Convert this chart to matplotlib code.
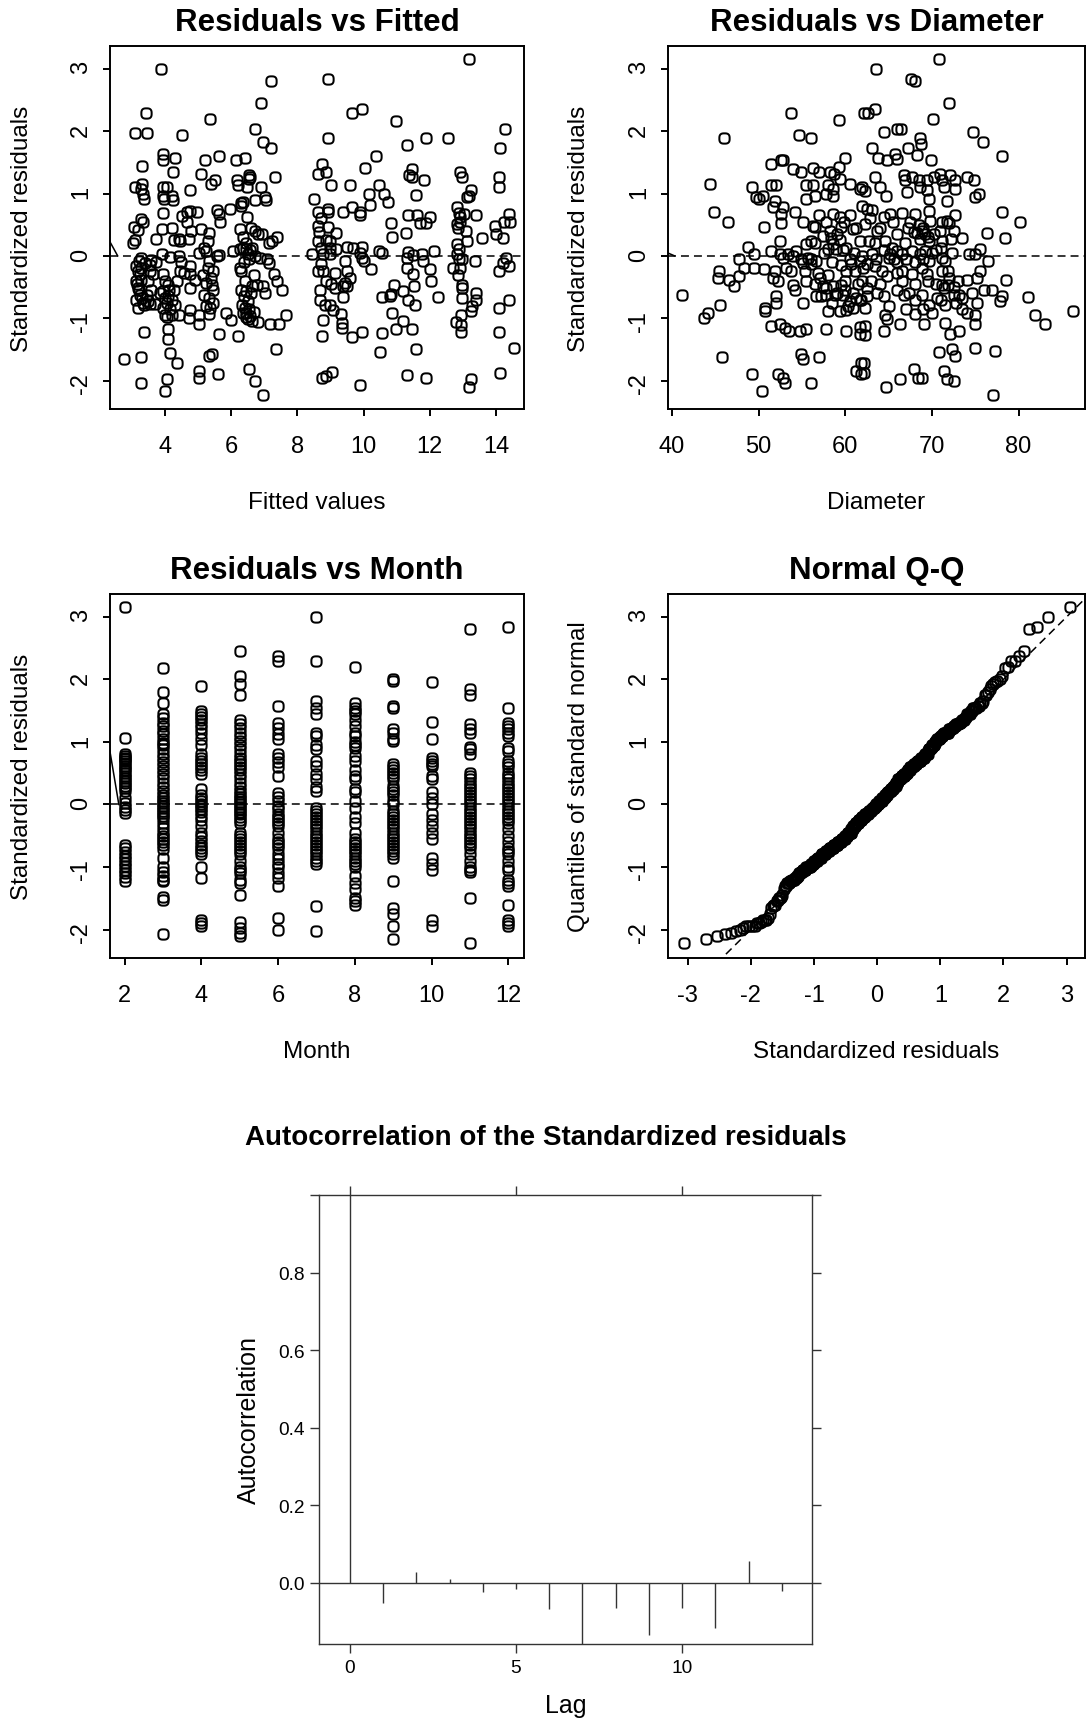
import numpy as np
import matplotlib
matplotlib.use('Agg')
import matplotlib.pyplot as plt
from matplotlib.path import Path
from statistics import NormalDist

plt.rcParams['font.family'] = ['Liberation Sans', 'DejaVu Sans']
plt.rcParams['axes.unicode_minus'] = False

# ---- Residuals vs Fitted: (fitted value, standardized residual) ----
fit_pts = [
    (3.88, 2.99), (7.21, 2.80), (6.90, 2.45), (3.44, 2.29), (5.36, 2.20), (3.08, 1.97), (3.46, 1.97),
    (4.51, 1.94), (6.72, 2.04), (6.97, 1.82), (7.21, 1.73), (3.93, 1.63), (3.95, 1.54), (4.29, 1.57),
    (5.21, 1.54), (5.62, 1.60), (6.15, 1.54), (6.43, 1.57), (3.31, 1.44), (4.23, 1.35), (5.08, 1.31),
    (6.53, 1.30), (6.56, 1.26), (3.08, 1.11), (3.31, 1.16), (3.26, 1.07), (3.33, 0.99), (3.38, 0.91),
    (3.95, 1.11), (4.05, 1.10), (3.93, 0.96), (3.98, 0.91), (4.21, 0.96), (4.23, 0.89), (4.77, 1.06),
    (5.38, 1.16), (5.52, 1.22), (6.17, 1.21), (6.22, 1.14), (6.48, 1.10), (6.53, 1.23), (6.90, 1.10),
    (7.33, 1.26), (6.72, 0.90), (7.05, 0.89), (7.03, 0.94), (6.29, 0.84), (6.36, 0.87), (6.31, 0.80),
    (6.49, 0.63), (6.26, 0.43), (3.93, 0.68), (3.26, 0.59), (3.33, 0.54), (3.05, 0.46), (3.18, 0.42),
    (3.03, 0.21), (3.08, 0.25), (3.74, 0.27), (3.90, 0.43), (4.21, 0.44), (4.26, 0.25), (4.41, 0.27),
    (4.46, 0.24), (4.72, 0.27), (4.51, 0.64), (4.67, 0.70), (4.77, 0.72), (4.97, 0.70), (4.67, 0.54),
    (4.80, 0.40), (5.08, 0.43), (5.33, 0.36), (5.31, 0.24), (5.56, 0.73), (5.62, 0.67), (5.67, 0.54),
    (5.97, 0.75), (6.72, 0.40), (6.80, 0.35), (6.92, 0.35), (7.13, 0.21), (7.23, 0.24), (7.38, 0.31),
    (5.03, 0.05), (5.18, 0.13), (5.23, 0.08), (5.56, 0.00), (5.62, 0.01), (6.05, 0.08), (6.26, 0.11),
    (6.36, 0.13), (6.46, 0.11), (6.56, 0.09), (6.62, 0.12), (3.26, -0.03), (3.59, -0.07), (3.74, -0.10),
    (3.90, 0.03), (4.15, -0.02), (4.41, 0.00), (4.49, -0.10), (4.77, -0.16), (5.33, -0.08), (6.51, 0.03),
    (6.72, 0.00), (6.87, -0.03), (7.08, -0.05), (7.13, -0.11), (3.13, -0.16), (3.18, -0.24), (3.23, -0.29),
    (3.28, -0.38), (3.13, -0.40), (3.18, -0.51), (3.54, -0.24), (3.64, -0.29), (3.49, -0.40), (3.59, -0.54),
    (3.95, -0.29), (4.00, -0.40), (4.10, -0.46), (3.95, -0.56), (4.26, -0.54), (4.46, -0.24), (4.56, -0.27),
    (4.74, -0.29), (4.92, -0.38), (4.77, -0.51), (5.23, -0.43), (5.38, -0.36), (5.41, -0.46), (5.44, -0.54),
    (5.18, -0.62), (5.33, -0.67), (5.44, -0.75), (6.26, -0.19), (6.31, -0.24), (6.41, -0.40), (6.31, -0.54),
    (6.46, -0.56), (6.62, -0.48), (6.77, -0.46), (6.97, -0.48), (7.03, -0.59), (7.28, -0.29), (7.38, -0.40),
    (7.54, -0.55), (3.23, -0.62), (3.33, -0.75), (3.38, -0.78), (3.54, -0.77), (3.69, -0.77), (3.18, -0.83),
    (4.00, -0.67), (4.10, -0.64), (4.21, -0.70), (3.95, -0.83), (4.00, -0.95), (4.05, -0.98), (4.21, -0.94),
    (4.43, -0.94), (4.77, -0.86), (5.03, -0.94), (4.72, -0.99), (5.03, -1.09), (5.23, -0.80), (5.36, -0.83),
    (5.33, -0.93), (5.85, -0.91), (6.00, -1.03), (6.34, -0.78), (6.41, -0.83), (6.46, -0.91), (6.56, -0.96),
    (6.51, -1.02), (6.62, -1.04), (6.82, -1.06), (7.18, -1.09), (7.44, -1.09), (7.67, -0.94), (3.38, -1.22),
    (4.10, -1.18), (4.10, -1.34), (5.64, -1.25), (6.21, -1.28), (7.36, -1.50), (4.15, -1.55), (4.36, -1.71),
    (5.33, -1.61), (5.41, -1.58), (2.75, -1.66), (3.26, -1.62), (5.03, -1.84), (5.03, -1.96), (5.59, -1.90),
    (6.54, -1.82), (6.72, -2.01), (3.26, -2.04), (4.05, -1.98), (4.00, -2.16), (6.97, -2.23),
    (3.15, -0.45), (3.22, -0.55), (3.30, -0.68), (3.12, -0.70), (3.45, -0.62), (3.50, -0.72), (3.28, -0.20),
    (3.40, -0.12), (3.20, -0.08), (3.55, -0.15), (4.05, -0.75), (4.15, -0.85), (4.30, -0.78), (4.12, -0.55),
    (4.35, -0.40), (3.85, -0.60), (6.40, -0.65), (6.50, -0.72), (6.55, -0.85), (6.45, -0.98), (6.68, -0.90),
    (6.35, -0.92), (6.60, -0.60), (6.70, -0.30), (6.40, -0.10), (6.55, -0.05), (6.45, 0.20), (6.35, 0.30),
    (6.60, 0.45), (5.30, -0.20), (5.45, -0.25), (5.15, -0.30),
    (13.18, 3.15), (8.92, 2.83), (9.64, 2.29), (9.95, 2.35), (10.99, 2.17), (14.26, 2.04), (8.92, 1.89),
    (11.30, 1.78), (11.90, 1.89), (12.56, 1.89), (14.13, 1.73), (10.38, 1.60), (8.75, 1.47), (8.62, 1.32),
    (8.87, 1.35), (10.03, 1.41), (11.46, 1.40), (11.38, 1.29), (11.46, 1.26), (11.83, 1.22), (12.92, 1.35),
    (12.97, 1.26), (13.23, 1.06), (13.18, 0.96), (13.13, 0.94), (14.08, 1.26), (14.08, 1.10), (9.00, 1.13),
    (9.59, 1.13), (8.49, 0.91), (8.62, 0.70), (8.92, 0.75), (8.92, 0.70), (9.38, 0.71), (9.64, 0.79),
    (9.90, 0.71), (9.90, 0.66), (10.18, 0.82), (10.15, 1.00), (10.46, 1.14), (10.62, 0.99), (10.74, 0.87),
    (11.59, 0.98), (11.35, 0.66), (11.62, 0.66), (11.69, 0.53), (11.90, 0.53), (12.02, 0.62), (10.82, 0.53),
    (10.87, 0.31), (11.28, 0.36), (12.82, 0.78), (12.87, 0.69), (12.92, 0.62), (13.03, 0.67), (12.82, 0.51),
    (13.08, 0.40), (13.13, 0.24), (13.41, 0.66), (13.59, 0.29), (13.97, 0.48), (14.00, 0.35), (14.21, 0.29),
    (14.24, 0.54), (14.39, 0.67), (14.41, 0.54), (8.62, 0.48), (8.64, 0.38), (8.92, 0.46), (9.18, 0.36),
    (8.62, 0.24), (8.87, 0.25), (8.97, 0.24), (8.72, 0.13), (8.97, 0.13), (9.18, 0.11), (9.49, 0.14),
    (9.69, 0.12), (9.95, 0.14), (9.90, 0.05), (8.44, 0.03), (8.77, 0.03), (8.97, 0.03), (10.46, 0.08),
    (10.56, 0.05), (11.35, 0.07), (11.49, 0.02), (11.77, 0.03), (12.12, 0.08), (12.82, 0.19), (12.87, 0.11),
    (12.82, 0.03), (12.87, -0.05), (12.97, -0.05), (13.36, -0.08), (14.31, -0.03), (14.21, -0.11),
    (14.39, -0.16), (14.10, -0.24), (8.62, -0.24), (8.77, -0.24), (8.72, -0.13), (9.44, -0.08), (9.49, -0.24),
    (9.59, -0.35), (9.13, -0.27), (9.44, -0.43), (9.38, -0.48), (9.13, -0.51), (9.95, -0.03), (10.00, -0.08),
    (10.21, -0.21), (11.31, -0.03), (11.31, -0.19), (11.49, -0.29), (11.51, -0.48), (11.80, -0.08),
    (12.00, -0.21), (12.03, -0.41), (12.69, -0.20), (12.97, -0.47), (12.97, -0.67), (8.67, -0.54),
    (8.67, -0.70), (8.82, -0.78), (8.97, -0.78), (9.08, -0.87), (9.33, -0.93), (9.38, -0.66), (9.49, -0.48),
    (9.36, -1.07), (9.36, -1.15), (8.77, -1.03), (8.74, -1.29), (9.64, -1.30), (9.95, -1.22), (10.56, -0.66),
    (10.80, -0.64), (10.82, -0.61), (10.92, -0.47), (11.18, -0.56), (11.35, -0.71), (11.54, -0.78),
    (12.26, -0.66), (10.87, -0.91), (11.18, -1.05), (10.97, -1.18), (11.47, -1.18), (10.56, -1.23),
    (11.59, -1.50), (10.49, -1.54), (12.97, -0.51), (13.28, -0.80), (13.41, -0.60), (13.41, -0.70),
    (13.23, -0.88), (12.95, -0.94), (12.79, -1.06), (12.95, -1.11), (12.95, -1.22), (14.10, -0.83),
    (14.39, -0.71), (14.08, -1.22), (14.53, -1.47), (14.13, -1.88), (8.74, -1.95), (8.87, -1.93),
    (9.06, -1.86), (9.90, -2.07), (11.30, -1.91), (11.90, -1.96), (13.23, -1.98), (13.18, -2.11),
    (12.85, -0.30), (12.90, -0.20), (12.85, 0.45), (12.90, 0.55), (9.00, -0.45), (8.85, -0.40), (8.70, 0.60),
]

# ---- Residuals vs Diameter: (diameter, standardized residual) ----
diam_pts = [
    (41.2, -0.62), (53.76, 2.29), (59.23, 2.18), (62.12, 2.29), (45.97, 1.89), (54.64, 1.94), (55.99, 1.89),
    (51.45, 1.47), (52.60, 1.54), (52.79, 1.54), (53.95, 1.40), (54.91, 1.34), (56.26, 1.41), (56.96, 1.35),
    (58.19, 1.34), (58.65, 1.31), (59.23, 1.43), (59.92, 1.57), (44.39, 1.15), (49.21, 1.10), (49.71, 0.94),
    (50.02, 0.91), (50.48, 0.96), (51.37, 1.13), (51.95, 1.13), (51.83, 0.88), (51.64, 0.78), (52.60, 0.67),
    (52.79, 0.78), (52.60, 0.52), (44.89, 0.71), (46.44, 0.55), (50.60, 0.46), (54.14, 0.71), (55.49, 0.91),
    (56.45, 0.96), (57.80, 0.99), (58.57, 0.96), (55.49, 1.13), (56.26, 1.13), (58.00, 1.13), (58.57, 1.07),
    (59.35, 1.23), (60.58, 1.15), (61.66, 1.07), (55.10, 0.54), (56.26, 0.48), (56.45, 0.46), (57.80, 0.54),
    (58.57, 0.67), (59.35, 0.62), (59.54, 0.46), (60.89, 0.43), (57.42, 0.32), (58.38, 0.29), (58.57, 0.19),
    (59.35, 0.25), (60.12, 0.13), (61.66, 0.24), (52.41, 0.24), (55.49, 0.19), (56.07, 0.24), (56.45, 0.21),
    (58.00, 0.11), (58.96, 0.11), (59.73, 0.09), (48.75, 0.14), (49.52, 0.03), (47.78, -0.05), (48.36, -0.19),
    (49.52, -0.19), (50.67, -0.21), (51.45, 0.08), (52.41, 0.03), (52.79, -0.03), (53.37, 0.03), (53.95, 0.00),
    (54.34, 0.08), (54.91, -0.05), (55.10, -0.11), (55.68, -0.03), (56.07, -0.13), (56.65, -0.08),
    (51.83, -0.24), (51.64, -0.35), (52.22, -0.40), (53.18, -0.19), (53.76, -0.24), (55.30, -0.24),
    (56.84, -0.27), (57.03, -0.35), (57.42, -0.48), (57.80, -0.51), (58.57, -0.48), (59.54, -0.46),
    (59.92, -0.40), (60.12, -0.24), (60.69, -0.13), (61.08, -0.24), (61.66, -0.08), (62.04, -0.19),
    (45.47, -0.24), (45.28, -0.36), (46.63, -0.38), (47.78, -0.32), (47.20, -0.48), (53.95, -0.46),
    (54.14, -0.54), (52.02, -0.64), (56.65, -0.64), (57.23, -0.64), (57.80, -0.63), (58.77, -0.62),
    (59.73, -0.63), (60.89, -0.59), (60.50, -0.72), (61.27, -0.67), (61.85, -0.70), (45.59, -0.78),
    (44.12, -0.91), (43.66, -0.99), (50.79, -0.83), (50.79, -0.88), (51.95, -0.75), (55.10, -0.75),
    (58.00, -0.88), (59.35, -0.88), (60.12, -0.86), (60.89, -0.83), (61.66, -0.70), (51.45, -1.13),
    (52.41, -1.10), (52.99, -1.15), (53.56, -1.20), (54.72, -1.21), (55.49, -1.18), (57.80, -1.18),
    (60.12, -1.21), (61.66, -1.14), (61.66, -1.26), (45.78, -1.62), (54.91, -1.58), (55.10, -1.66),
    (56.96, -1.62), (61.27, -1.85), (61.77, -1.89), (61.85, -1.71), (49.25, -1.90), (52.22, -1.90),
    (52.79, -1.96), (52.99, -2.04), (56.07, -2.04), (50.40, -2.16),
    (70.85, 3.15), (63.54, 2.99), (67.62, 2.83), (68.08, 2.80), (72.00, 2.45), (62.62, 2.29), (63.38, 2.36),
    (70.12, 2.20), (64.42, 1.98), (65.96, 2.04), (66.46, 2.04), (74.69, 1.98), (75.85, 1.82), (68.65, 1.89),
    (68.77, 1.80), (63.08, 1.73), (63.77, 1.57), (64.81, 1.54), (65.77, 1.63), (65.96, 1.55), (67.23, 1.73),
    (68.27, 1.61), (69.92, 1.54), (78.08, 1.60), (63.38, 1.26), (64.04, 1.10), (64.69, 0.96), (62.31, 1.04),
    (61.92, 1.10), (66.73, 1.29), (66.92, 1.21), (67.12, 1.02), (67.69, 1.26), (68.46, 1.21), (68.65, 1.10),
    (69.42, 1.21), (69.42, 1.05), (69.62, 0.91), (70.19, 1.26), (70.96, 1.31), (71.15, 1.21), (71.35, 1.10),
    (71.73, 0.88), (72.12, 1.29), (72.69, 1.21), (72.69, 1.07), (74.04, 1.26), (74.81, 1.22), (75.46, 0.99),
    (75.00, 0.95), (78.08, 0.71), (80.19, 0.55), (61.92, 0.80), (62.50, 0.75), (63.08, 0.73), (64.42, 0.63),
    (65.19, 0.67), (66.54, 0.68), (67.50, 0.54), (68.08, 0.67), (69.62, 0.72), (69.81, 0.56), (71.15, 0.54),
    (71.73, 0.56), (72.00, 0.52), (72.69, 0.66), (62.31, 0.51), (63.65, 0.40), (62.69, 0.24), (63.46, 0.21),
    (64.62, 0.24), (65.38, 0.13), (65.96, 0.08), (66.92, 0.21), (67.88, 0.38), (68.27, 0.36), (68.85, 0.40),
    (69.23, 0.35), (68.65, 0.27), (69.62, 0.24), (70.19, 0.35), (70.96, 0.40), (71.15, 0.24), (72.23, 0.27),
    (73.46, 0.29), (76.35, 0.36), (78.38, 0.29), (61.92, 0.00), (63.08, 0.03), (65.00, -0.03), (65.19, 0.03),
    (65.58, -0.05), (66.54, 0.03), (67.69, 0.08), (68.65, 0.03), (69.23, 0.08), (69.62, -0.08), (71.15, -0.03),
    (71.54, -0.08), (72.31, 0.05), (74.23, 0.03), (75.00, 0.03), (75.58, 0.11), (76.46, -0.08), (62.50, -0.13),
    (63.46, -0.16), (64.23, -0.24), (64.81, -0.32), (65.96, -0.27), (66.54, -0.24), (67.69, -0.29),
    (68.85, -0.19), (69.42, -0.29), (71.15, -0.24), (71.85, -0.24), (72.00, -0.35), (71.15, -0.46),
    (71.85, -0.46), (74.04, -0.39), (75.19, -0.36), (75.58, -0.24), (78.54, -0.38), (61.92, -0.40),
    (62.50, -0.51), (63.65, -0.59), (64.42, -0.64), (65.96, -0.55), (66.73, -0.62), (67.31, -0.59),
    (68.08, -0.70), (68.85, -0.62), (69.62, -0.78), (70.58, -0.67), (71.35, -0.51), (71.54, -0.78),
    (72.50, -0.62), (73.08, -0.62), (73.46, -0.67), (74.62, -0.59), (75.19, -0.75), (75.96, -0.54),
    (76.92, -0.55), (78.08, -0.64), (77.88, -0.72), (81.08, -0.66), (81.92, -0.94), (83.08, -1.09),
    (86.23, -0.89), (62.31, -0.83), (62.31, -1.13), (62.31, -1.27), (64.62, -0.94), (64.81, -1.02),
    (64.42, -1.21), (66.35, -1.10), (68.08, -0.93), (69.04, -1.09), (70.00, -0.91), (71.54, -1.07),
    (72.12, -1.26), (73.08, -1.21), (74.04, -0.91), (75.00, -0.94), (75.00, -1.10), (70.77, -1.54),
    (72.31, -1.50), (72.69, -1.61), (74.92, -1.47), (77.23, -1.52), (62.12, -1.71), (62.12, -1.87),
    (67.88, -1.82), (68.38, -1.95), (68.85, -1.95), (71.35, -1.85), (71.73, -1.97), (72.50, -2.01),
    (64.69, -2.11), (66.35, -1.98), (77.00, -2.23),
    (57.0, 0.65), (58.2, 0.40), (59.0, 0.35), (59.8, 0.55), (60.5, 0.65), (61.2, 0.45), (62.8, 0.60),
    (64.0, 0.45), (65.5, 0.55), (66.0, 0.35), (67.2, 0.45), (68.5, 0.50), (69.0, 0.45), (69.5, 0.30),
    (70.5, 0.10), (71.0, 0.12), (72.5, 0.40), (56.0, -0.05), (57.5, 0.05), (58.5, -0.10), (59.5, -0.15),
    (60.5, -0.05), (61.0, 0.05), (63.5, -0.05), (64.5, 0.10), (66.0, -0.10), (67.0, -0.05), (68.0, -0.10),
    (69.0, -0.05), (70.0, 0.05), (55.5, -0.40), (56.5, -0.45), (58.0, -0.30), (59.0, -0.60), (60.0, -0.55),
    (61.5, -0.45), (63.0, -0.40), (64.0, -0.45), (66.5, -0.40), (68.0, -0.45), (69.5, -0.40), (70.5, -0.45),
    (72.5, -0.50), (73.0, -0.40), (58.5, -0.75), (60.3, -0.80), (62.5, -0.65), (65.0, -0.80), (67.0, -0.85),
    (69.0, -0.85), (71.0, -0.70), (72.8, -0.75), (73.5, -0.85),
]

# ---- Residuals by month ----
months = [2, 3, 4, 5, 6, 7, 8, 9, 10, 11, 12]
res_m2 = [3.15, 1.06, 0.80, 0.78, 0.75, 0.72, 0.70, 0.66, 0.62, 0.58, 0.55, 0.50, 0.46, 0.42, 0.38, 0.34,
          0.30, 0.26, 0.22, 0.10, 0.02, -0.04, -0.09, -0.14, -0.65, -0.70, -0.76, -0.82, -0.88, -0.93,
          -0.98, -1.04, -1.10, -1.16, -1.22]
res_m3 = [2.18, 1.80, 1.62, 1.45, 1.38, 1.30, 1.25, 1.18, 1.12, 1.05, 0.98, 0.95, 0.88, 0.80, 0.75, 0.68,
          0.62, 0.55, 0.48, 0.42, 0.35, 0.28, 0.22, 0.15, 0.10, 0.06, 0.02, -0.02, -0.06, -0.10, -0.14,
          -0.18, -0.22, -0.30, -0.38, -0.45, -0.50, -0.55, -0.60, -0.65, -0.72, -0.85, -1.00, -1.08,
          -1.15, -1.20, -1.22, -1.48, -1.52, -2.07]
res_m4 = [1.90, 1.50, 1.45, 1.40, 1.35, 1.28, 1.22, 1.15, 1.05, 0.95, 0.80, 0.75, 0.70, 0.65, 0.60, 0.55,
          0.48, 0.25, 0.15, 0.10, 0.05, 0.01, -0.03, -0.08, -0.12, -0.18, -0.25, -0.35, -0.45, -0.52,
          -0.58, -0.65, -0.70, -0.75, -0.80, -1.00, -1.18, -1.85, -1.90, -1.95]
res_m5 = [2.45, 2.05, 1.93, 1.75, 1.35, 1.28, 1.22, 1.15, 1.08, 1.02, 0.95, 0.88, 0.80, 0.75, 0.70, 0.65,
          0.60, 0.55, 0.48, 0.42, 0.35, 0.28, 0.22, 0.16, 0.12, 0.08, 0.04, 0.00, -0.04, -0.08, -0.12,
          -0.16, -0.20, -0.25, -0.30, -0.45, -0.50, -0.55, -0.60, -0.65, -0.70, -0.75, -0.80, -0.90,
          -1.00, -1.05, -1.10, -1.20, -1.25, -1.45, -1.88, -1.97, -2.05, -2.10]
res_m6 = [2.38, 2.30, 1.58, 1.30, 1.22, 1.12, 1.05, 0.80, 0.75, 0.68, 0.60, 0.45, 0.18, 0.12, 0.05, -0.02,
          -0.08, -0.15, -0.20, -0.25, -0.30, -0.35, -0.45, -0.55, -0.60, -0.65, -0.70, -0.80, -0.88,
          -0.95, -1.00, -1.10, -1.18, -1.30, -1.82, -2.00]
res_m7 = [3.00, 2.30, 1.65, 1.55, 1.45, 1.15, 1.10, 0.95, 0.88, 0.70, 0.62, 0.48, 0.40, 0.28, 0.22, -0.05,
          -0.10, -0.15, -0.20, -0.25, -0.30, -0.35, -0.40, -0.45, -0.50, -0.55, -0.60, -0.65, -0.70,
          -0.75, -0.80, -0.85, -0.90, -0.95, -1.62, -2.03]
res_m8 = [2.20, 1.62, 1.55, 1.50, 1.45, 1.35, 1.25, 1.15, 1.10, 1.00, 0.95, 0.90, 0.78, 0.70, 0.55, 0.45,
          0.40, 0.25, 0.20, 0.05, -0.05, -0.20, -0.30, -0.45, -0.55, -0.60, -0.65, -0.70, -0.75, -0.80,
          -0.85, -0.90, -0.95, -1.00, -1.15, -1.25, -1.35, -1.50, -1.55, -1.60]
res_m9 = [2.00, 1.97, 1.58, 1.55, 1.20, 1.15, 1.05, 1.02, 0.65, 0.60, 0.55, 0.50, 0.45, 0.40, 0.30, 0.25,
          0.20, 0.15, 0.05, 0.00, -0.10, -0.15, -0.20, -0.25, -0.30, -0.35, -0.40, -0.45, -0.50, -0.55,
          -0.60, -0.65, -0.70, -0.75, -0.80, -0.85, -1.22, -1.65, -1.75, -1.95, -2.15]
res_m10 = [1.95, 1.32, 1.05, 0.75, 0.70, 0.65, 0.62, 0.45, 0.40, 0.20, 0.10, 0.00, -0.15, -0.25, -0.35,
           -0.45, -0.55, -0.85, -0.95, -1.05, -1.85, -1.95]
res_m11 = [2.80, 1.85, 1.75, 1.28, 1.20, 1.15, 0.92, 0.88, 0.80, 0.50, 0.45, 0.40, 0.35, 0.30, 0.25, 0.20,
           0.15, 0.10, 0.05, 0.00, -0.05, -0.10, -0.15, -0.20, -0.25, -0.30, -0.35, -0.40, -0.45, -0.50,
           -0.55, -0.60, -0.65, -0.70, -0.80, -0.90, -1.00, -1.05, -1.08, -1.50, -2.22]
res_m12 = [2.83, 1.55, 1.30, 1.25, 1.20, 1.15, 1.10, 0.90, 0.85, 0.70, 0.65, 0.60, 0.50, 0.45, 0.40, 0.35,
           0.30, 0.25, 0.20, 0.15, 0.10, 0.05, 0.00, -0.05, -0.10, -0.15, -0.20, -0.25, -0.30, -0.40,
           -0.50, -0.60, -0.70, -0.75, -0.80, -0.90, -1.00, -1.05, -1.20, -1.25, -1.30, -1.60, -1.85,
           -1.90, -1.95]
month_res = [res_m2, res_m3, res_m4, res_m5, res_m6, res_m7, res_m8, res_m9, res_m10, res_m11, res_m12]

# ---- ACF of standardized residuals ----
lags = list(range(14))
acf_vals = [1.0, -0.051, 0.028, 0.010, -0.024, -0.017, -0.069, -0.158, -0.064, -0.135, -0.064, -0.118,
            0.056, -0.021]

W, H = 1091, 1724
fig = plt.figure(figsize=(W / 100, H / 100), dpi=100)


def box(l, t, r, b):
    return [l / W, 1 - b / H, (r - l) / W, (b - t) / H]


# R's pch=1 renders as a slightly squarish ring at this resolution
tt = np.linspace(0, 2 * np.pi, 73)
ring = np.column_stack([np.sign(np.cos(tt)) * np.abs(np.cos(tt)) ** 0.7,
                        np.sign(np.sin(tt)) * np.abs(np.sin(tt)) ** 0.7])
pch1 = Path(ring, closed=True)


def r_panel(ax, x, y, title, xlabel, ylabel, xlim, xticks):
    ax.plot(x, y, linestyle='none', marker=pch1, ms=7.4, mfc='none', mec='black', mew=1.45)
    ax.set_xlim(xlim)
    ax.set_ylim(-2.455, 3.365)
    ax.set_xticks(xticks)
    ax.set_yticks(range(-2, 4))
    ax.tick_params(axis='both', direction='out', length=5, width=1.4, labelsize=17)
    ax.tick_params(axis='x', pad=14)
    ax.tick_params(axis='y', pad=8, labelrotation=90)
    for s in ax.spines.values():
        s.set_linewidth(1.4)
    ax.text(0.5, 1.067, title, transform=ax.transAxes, ha='center', va='center',
            fontsize=22.5, fontweight='bold')
    ax.text(0.5, -0.256, xlabel, transform=ax.transAxes, ha='center', va='center', fontsize=17.5)
    ax.text(-0.213, 0.5, ylabel, transform=ax.transAxes, ha='center', va='center',
            rotation=90, fontsize=17.5)


ax1 = fig.add_axes(box(110, 47, 524, 410))
fx, fy = zip(*fit_pts)
r_panel(ax1, fx, fy, 'Residuals vs Fitted', 'Fitted values', 'Standardized residuals',
        (2.338, 14.846), range(4, 15, 2))
ax1.axhline(0, color='black', lw=1.1, dashes=(5.2, 3.3))
ax1.plot([2.28, 2.57], [0.28, 0.0], color='black', lw=1.1)

ax2 = fig.add_axes(box(668, 47, 1085, 410))
dx, dy = zip(*diam_pts)
r_panel(ax2, dx, dy, 'Residuals vs Diameter', 'Diameter', 'Standardized residuals',
        (39.54, 87.66), range(40, 81, 10))
ax2.axhline(0, color='black', lw=1.1, dashes=(5.2, 3.3))
ax2.plot([39.3, 40.3], [0.06, 0.0], color='black', lw=1.1)

ax3 = fig.add_axes(box(110, 595, 524, 959))
mx = [m for m, r in zip(months, month_res) for _ in r]
my = [v for r in month_res for v in r]
r_panel(ax3, mx, my, 'Residuals vs Month', 'Month', 'Standardized residuals',
        (1.62, 12.41), range(2, 13, 2))
ax3.axhline(0, color='black', lw=1.1, dashes=(5.2, 3.3))
ax3.plot([1.55, 1.85], [1.10, 0.0], color='black', lw=1.1)

ax4 = fig.add_axes(box(668, 595, 1085, 959))
res_sorted = np.sort(my)
n = len(res_sorted)
theo = [NormalDist().inv_cdf((i + 0.5) / n) for i in range(n)]
r_panel(ax4, theo, res_sorted, 'Normal Q-Q', 'Standardized residuals', 'Quantiles of standard normal',
        (-3.31, 3.29), range(-3, 4))
ax4.plot([-4, 4], [-4, 4], color='black', lw=1.1, dashes=(5.2, 3.3))

# ---- lattice-style ACF panel ----
gray = '#333333'
ax5 = fig.add_axes(box(319, 1196, 812, 1645))
ax5.vlines(lags, 0, acf_vals, color=gray, lw=1.0)
ax5.axhline(0, color=gray, lw=1.0)
ax5.set_xlim(-0.93, 13.91)
ax5.set_ylim(-0.158, 1.0)
ax5.set_xticks([0, 5, 10])
ax5.set_yticks([0.0, 0.2, 0.4, 0.6, 0.8, 1.0])
ax5.set_yticklabels(['0.0', '0.2', '0.4', '0.6', '0.8', ''])
ax5.tick_params(axis='both', direction='out', length=6.5, width=1.0, color=gray,
                labelsize=13.8, pad=4, top=True, right=True, labeltop=False, labelright=False)
for s in ax5.spines.values():
    s.set_linewidth(1.0)
    s.set_color(gray)
ax5.text(-0.142, 0.5, 'Autocorrelation', transform=ax5.transAxes, ha='center', va='center',
         rotation=90, fontsize=18)
ax5.text(0.5, -0.136, 'Lag', transform=ax5.transAxes, ha='center', va='center', fontsize=18)
fig.text(0.5, 1 - 1138 / H, 'Autocorrelation of the Standardized residuals', ha='center', va='center',
         fontsize=20, fontweight='bold')

fig.savefig('out.png', dpi=100)
